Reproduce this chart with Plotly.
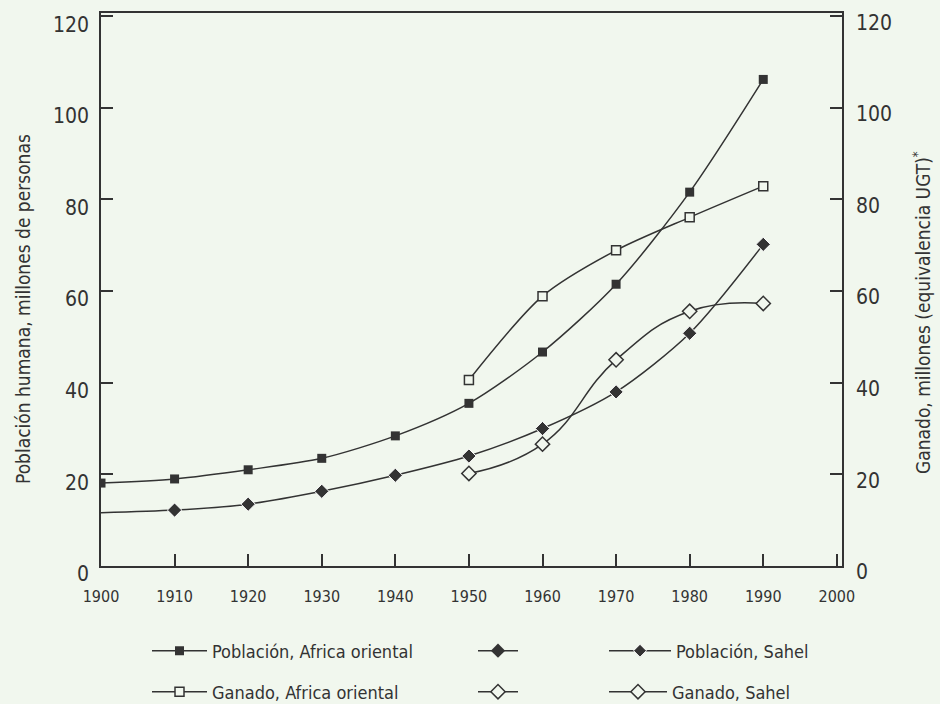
import plotly.graph_objects as go

# Years and series (millions)
years = [1900, 1910, 1920, 1930, 1940, 1950, 1960, 1970, 1980, 1990]
pop_east = [18.1, 19.0, 21.0, 23.5, 28.4, 35.5, 46.7, 61.5, 81.6, 106.2]
pop_sahel = [11.6, 12.2, 13.5, 16.3, 19.8, 24.0, 30.0, 38.0, 50.8, 70.2]

years_cattle = [1950, 1960, 1970, 1980, 1990]
cattle_east = [40.6, 58.9, 68.9, 76.1, 82.9]
cattle_sahel = [20.2, 26.6, 45.0, 55.6, 57.3]

x_ticks = [1900, 1910, 1920, 1930, 1940, 1950, 1960, 1970, 1980, 1990, 2000]
y_ticks = [0, 20, 40, 60, 80, 100, 120]

BG = "#f1f7ee"
INK = "#333333"
FONT = "Liberation Sans Narrow, Arial Narrow, DejaVu Sans Condensed, sans-serif"

fig = go.Figure()

fig.add_trace(go.Scatter(
    x=years, y=pop_east, name="Población, Africa oriental",
    mode="lines+markers", line=dict(color=INK, width=1.5, shape="spline", smoothing=0.8),
    marker=dict(symbol="square", size=9, color=INK, opacity=1), legend="legend"))

fig.add_trace(go.Scatter(
    x=years_cattle, y=cattle_east, name="Ganado, Africa oriental",
    mode="lines+markers", line=dict(color=INK, width=1.5, shape="spline", smoothing=0.8),
    marker=dict(symbol="square", size=9, color=BG, opacity=1, line=dict(color=INK, width=1.5)),
    legend="legend2"))

# unlabeled keys in the middle column
fig.add_trace(go.Scatter(
    x=[None], y=[None], name=" ", mode="lines+markers",
    line=dict(color=INK, width=1.5),
    marker=dict(symbol="diamond", size=11, color=INK, opacity=1), legend="legend3"))
fig.add_trace(go.Scatter(
    x=[None], y=[None], name=" ", mode="lines+markers",
    line=dict(color=INK, width=1.5),
    marker=dict(symbol="diamond", size=11, color=BG, opacity=1, line=dict(color=INK, width=1.5)),
    legend="legend4"))

fig.add_trace(go.Scatter(
    x=years, y=pop_sahel, name="Población, Sahel",
    mode="lines+markers", line=dict(color=INK, width=1.5, shape="spline", smoothing=0.8),
    marker=dict(symbol="diamond", size=[0] + [11] * (len(years) - 1), color=INK, opacity=1),
    legend="legend5"))

fig.add_trace(go.Scatter(
    x=years_cattle, y=cattle_sahel, name="Ganado, Sahel",
    mode="lines+markers", line=dict(color=INK, width=1.5, shape="spline", smoothing=1.3),
    marker=dict(symbol="diamond", size=11, color=BG, opacity=1, line=dict(color=INK, width=1.5)),
    legend="legend6"))

# invisible trace to attach the right-hand axis
fig.add_trace(go.Scatter(x=[1900], y=[0], yaxis="y2", mode="markers",
                         marker=dict(opacity=0), showlegend=False, hoverinfo="skip"))

W, H = 940, 704
L, R, T, B = 101, 98, 13, 138


def legend_box(px_left, py_center, item_w=50):
    return dict(
        xref="container", yref="container",
        x=px_left / W, y=1 - py_center / H, xanchor="left", yanchor="middle",
        bgcolor="rgba(0,0,0,0)", borderwidth=0,
        font=dict(family=FONT, size=18, color=INK), itemwidth=item_w,
    )


row1, row2 = 651, 692
fig.update_layout(
    width=W, height=H,
    margin=dict(l=L, r=R, t=T, b=B, autoexpand=False),
    paper_bgcolor=BG, plot_bgcolor=BG,
    font=dict(family=FONT, color=INK),
    legend=legend_box(147, row1, 55),
    legend2=legend_box(147, row2, 55),
    legend3=legend_box(473, row1, 40),
    legend4=legend_box(473, row2, 40),
    legend5=legend_box(604, row1, 62),
    legend6=legend_box(604, row2, 58),
    xaxis=dict(
        range=[1900, 2000.7], tickvals=x_ticks, ticks="inside", ticklen=12,
        tickwidth=1.5, tickcolor=INK, showline=True, linecolor=INK, linewidth=1.5,
        mirror=True, showgrid=False, zeroline=False, ticklabelstandoff=15,
        tickfont=dict(family=FONT, size=16, color=INK),
    ),
    yaxis=dict(
        range=[0, 120.7], tickvals=y_ticks, ticks="inside", ticklen=12,
        tickwidth=1.5, tickcolor=INK, showline=True, linecolor=INK, linewidth=1.5,
        showgrid=False, zeroline=False, ticklabelstandoff=6, ticklabelshift=8,
        tickfont=dict(family=FONT, size=21, color=INK),
    ),
    yaxis2=dict(
        range=[0, 120.7], tickvals=y_ticks, ticks="inside", ticklen=12,
        tickwidth=1.5, tickcolor=INK, showline=True, linecolor=INK, linewidth=1.5,
        overlaying="y", side="right", showgrid=False, zeroline=False,
        ticklabelstandoff=8, ticklabelshift=6,
        tickfont=dict(family=FONT, size=21, color=INK),
    ),
    annotations=[
        dict(text="Población humana, millones de personas", textangle=-90,
             xref="paper", yref="paper", x=(23 - L) / 741, y=(566 - 309) / 553,
             xanchor="center", yanchor="middle",
             showarrow=False, font=dict(family=FONT, size=19, color=INK)),
        dict(text="Ganado, millones (equivalencia UGT)<sup>*</sup>", textangle=-90,
             xref="paper", yref="paper", x=(922 - L) / 741, y=(566 - 312) / 553,
             xanchor="center", yanchor="middle",
             showarrow=False, font=dict(family=FONT, size=19, color=INK)),
    ],
)

fig.write_html("out.html")
